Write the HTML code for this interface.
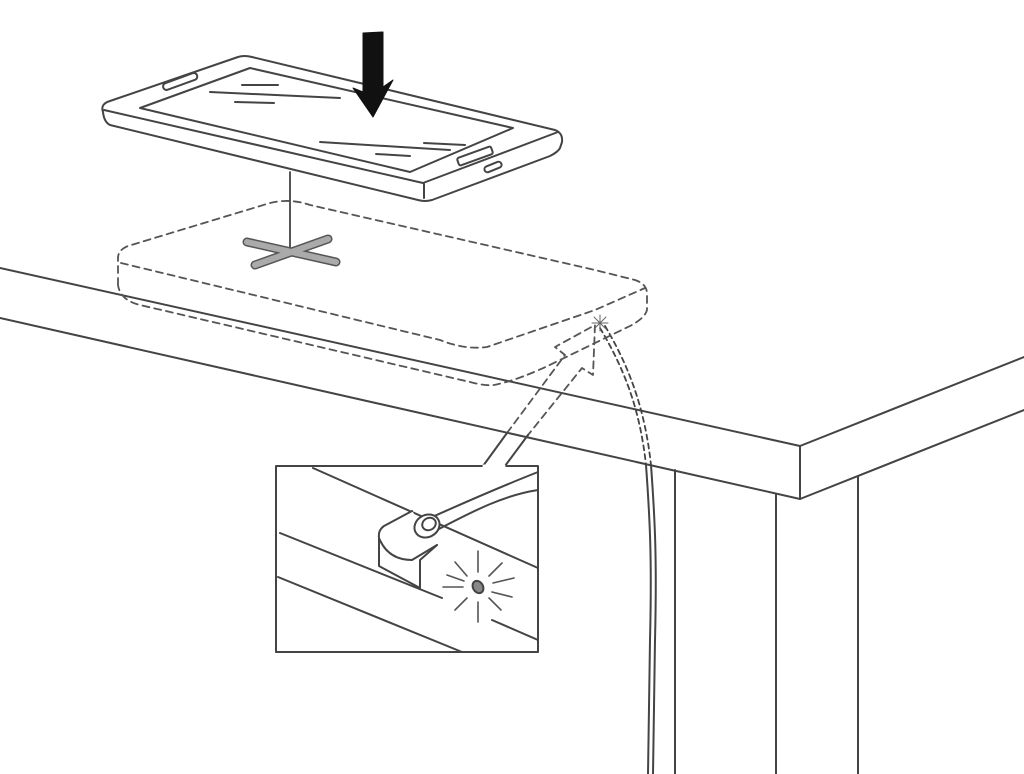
<!DOCTYPE html>
<html><head><style>html,body{margin:0;padding:0;background:#fff}svg{display:block}</style></head>
<body>
<svg width="1024" height="774" viewBox="0 0 1024 774" xmlns="http://www.w3.org/2000/svg" fill="none" stroke="#444" stroke-width="2" stroke-linejoin="round" stroke-linecap="round">
<!-- table -->
<line x1="0" y1="268" x2="800" y2="446"/>
<line x1="0" y1="318" x2="800" y2="499"/>
<line x1="800" y1="446" x2="800" y2="499"/>
<line x1="800" y1="446" x2="1024" y2="357"/>
<line x1="800" y1="499" x2="1024" y2="410"/>
<line x1="675" y1="470" x2="675" y2="774"/>
<line x1="776" y1="495" x2="776" y2="774"/>
<line x1="858" y1="477" x2="858" y2="774"/>
<!-- cable -->
<path d="M646,465 C650,520 652,560 650,640 L648,774"/>
<path d="M651,465 C655,520 657,560 655,640 L653,774"/>
<g stroke-dasharray="5,4" stroke-width="1.8">
<path d="M600,328 C625,370 640,410 646,465"/>
<path d="M605,326 C630,368 645,410 651,465"/>
</g>
<!-- pad dashed -->
<g stroke-dasharray="7,5" stroke-width="1.8" stroke="#555">
<path d="M118,285 L118,258 Q118,250 128,246 L270,203 Q290,198 310,205 L595,270 L635,280 Q647,284 647,294 L647,310 Q645,318 630,326 L560,360 Q520,380 494,385 Q485,386 470,382 L140,305 Q120,300 118,285 Z"/>
<path d="M121,263 L440,340 Q465,350 487,347 L595,310 L645,288"/>
<!-- dashed arrow -->
<path d="M507,433 L565,355 L555,347 L595,325 L593,375 L582,368 L528,435"/>
</g>
<!-- port star small -->
<g stroke-width="1" stroke="#666">
<line x1="592" y1="323" x2="608" y2="323"/><line x1="600" y1="315" x2="600" y2="331"/>
<line x1="594" y1="317" x2="606" y2="329"/><line x1="606" y1="317" x2="594" y2="329"/>
</g>
<!-- cross -->
<line x1="290" y1="172" x2="290" y2="252" stroke-width="1.8"/>
<g stroke-linecap="round">
<line x1="247" y1="242" x2="336" y2="262" stroke="#555" stroke-width="9"/>
<line x1="255" y1="265" x2="328" y2="239" stroke="#555" stroke-width="9"/>
<line x1="247" y1="242" x2="336" y2="262" stroke="#aaa" stroke-width="6"/>
<line x1="255" y1="265" x2="328" y2="239" stroke="#aaa" stroke-width="6"/>
</g>
<!-- phone -->
<path d="M103,112 Q100,104 110,101 L238,57 Q244,55 252,57 L555,130 Q563,133 562,142 L560,148 Q558,152 550,156 L432,200 Q425,202 418,200 L110,125 Q104,122 103,112 Z" fill="#fff"/>
<path d="M104,110 L423,183 L558,132"/>
<line x1="424" y1="184" x2="424" y2="198"/>
<path d="M140,108 L250,68 L513,128 L410,172 Z"/>
<rect x="162" y="78" width="36" height="7" rx="3.5" transform="rotate(-20 180 81)"/>
<rect x="457" y="152" width="36" height="8" rx="2" transform="rotate(-20 475 156)"/>
<rect x="484" y="164" width="18" height="6" rx="3" transform="rotate(-22 493 167)"/>
<line x1="242" y1="85" x2="278" y2="85"/>
<line x1="210" y1="92" x2="340" y2="98"/>
<line x1="235" y1="102" x2="274" y2="103"/>
<line x1="320" y1="142" x2="450" y2="150"/>
<line x1="424" y1="143" x2="465" y2="145"/>
<line x1="376" y1="154" x2="410" y2="156"/>
<!-- black arrow -->
<path d="M363,33 L383,32 L383,87 L393,80 L373,117 L353,88 L363,92 Z" fill="#111" stroke="#111" stroke-width="1"/>
<!-- inset -->
<rect x="276" y="466" width="262" height="186" fill="#fff" stroke="#444"/>
<line x1="483" y1="466" x2="507" y2="433"/><line x1="505" y1="466" x2="528" y2="435"/>
<line x1="484" y1="466" x2="504" y2="466" stroke="#fff" stroke-width="3"/>
<line x1="313" y1="468" x2="538" y2="568"/>
<line x1="280" y1="533" x2="442" y2="598"/>
<line x1="278" y1="577" x2="462" y2="652"/>
<line x1="492" y1="620" x2="538" y2="640"/>
<path d="M430,518 C470,500 505,485 538,472" />
<path d="M437,530 C475,510 505,495 538,490" />
<path d="M412,511 L384,526 Q378,530 379,538 L379,566 L420,588 L420,560 L437,545" fill="#fff"/>
<path d="M379,538 Q388,560 412,560 L437,545"/>
<ellipse cx="427" cy="526" rx="13" ry="11" transform="rotate(-30 427 526)" fill="#fff"/>
<ellipse cx="429" cy="524" rx="7" ry="6" transform="rotate(-30 429 524)"/>
<ellipse cx="478" cy="587" rx="5" ry="6.5" transform="rotate(-30 478 587)" fill="#888"/>
<g stroke-width="1.6" stroke="#555">
<line x1="478" y1="572" x2="478" y2="551"/><line x1="478" y1="602" x2="478" y2="622"/>
<line x1="463" y1="587" x2="443" y2="587"/><line x1="493" y1="583" x2="514" y2="578"/>
<line x1="467" y1="576" x2="455" y2="562"/><line x1="489" y1="576" x2="502" y2="563"/>
<line x1="467" y1="598" x2="455" y2="610"/><line x1="489" y1="598" x2="501" y2="610"/>
<line x1="464" y1="581" x2="447" y2="575"/><line x1="492" y1="592" x2="512" y2="597"/>
</g>
</svg>
</body></html>
